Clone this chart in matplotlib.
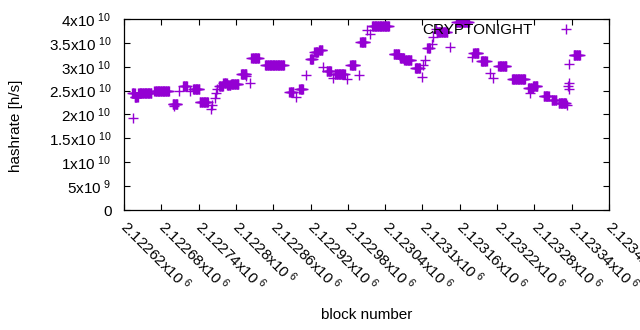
import numpy as np
import matplotlib
matplotlib.use('Agg')
import matplotlib.pyplot as plt
from matplotlib.ticker import FuncFormatter

plt.rcParams['font.family'] = ['Liberation Sans', 'DejaVu Sans']
plt.rcParams['mathtext.fontset'] = 'custom'
plt.rcParams['mathtext.rm'] = 'Liberation Sans'
plt.rcParams['mathtext.default'] = 'regular'

BASE_BLOCK = 2122620

# Runs of blocks where the estimated hashrate stays flat (block offsets, h/s in 1e10)
run_first = [13, 17, 23, 49, 78, 95, 111, 122, 153, 160, 166, 172, 188, 205, 227,
             266, 282, 299, 306, 314, 326, 339, 364, 380, 399, 434, 444, 451, 468,
             488, 503, 534, 562, 574, 602, 624, 650, 658, 675, 688, 699, 723]
run_last = [17, 22, 44, 72, 86, 101, 121, 135, 159, 165, 171, 184, 197, 217, 257,
            272, 288, 304, 312, 319, 333, 355, 372, 388, 426, 442, 450, 462, 476,
            492, 520, 555, 570, 583, 615, 645, 657, 665, 683, 695, 711, 733]
run_rate = [2.46, 2.37, 2.44, 2.50, 2.23, 2.60, 2.53, 2.26, 2.60, 2.65, 2.62, 2.63,
            2.85, 3.18, 3.03, 2.48, 2.54, 3.16, 3.30, 3.36, 2.92, 2.85, 3.04, 3.52,
            3.85, 3.26, 3.19, 3.14, 2.97, 3.39, 3.73, 3.94, 3.29, 3.12, 3.02, 2.74,
            2.55, 2.60, 2.39, 2.30, 2.24, 3.25]

# Scattered single blocks
single_block = [15, 81, 88, 106, 140, 141, 146, 148, 150, 196, 203, 277, 292, 320,
                336, 358, 378, 391, 396, 479, 481, 484, 495, 497, 502, 524, 560, 589,
                593, 653, 713, 714, 715, 716, 716]
single_rate = [1.92, 2.17, 2.50, 2.50, 2.11, 2.20, 2.34, 2.44, 2.53, 2.80, 2.67, 2.37,
               2.83, 3.00, 2.76, 2.74, 2.82, 3.78, 3.68, 2.79, 3.04, 3.14, 3.47, 3.63,
               3.80, 3.42, 3.21, 2.86, 2.76, 2.44, 2.20, 2.60, 2.65, 2.53, 3.06]

blocks = []
rates = []
for first, last, r in zip(run_first, run_last, run_rate):
    for b in range(first, last + 1):
        blocks.append(b)
        rates.append(r)
blocks += single_block
rates += single_rate
blocks = BASE_BLOCK + np.array(blocks)
rates = np.array(rates) * 1e10

x_ticks = [2122620, 2122680, 2122740, 2122800, 2122860, 2122920, 2122980,
           2123040, 2123100, 2123160, 2123220, 2123280, 2123340, 2123400]
y_ticks = [0, 5e9, 1e10, 1.5e10, 2e10, 2.5e10, 3e10, 3.5e10, 4e10]

FS = 11


def sci_label(v, pos=None):
    # gnuplot style "mantissa x10^exp"
    if v == 0:
        return '0'
    exp = int(np.floor(np.log10(abs(v))))
    mant = v / 10**exp
    return '%gx10$^{\\ %d}$' % (round(mant, 6), exp)


fig = plt.figure(figsize=(6.4, 3.3), dpi=100)
ax = fig.add_axes([124/640, 120/330, 485/640, 191/330])

ax.plot(blocks, rates, '+', color='#9400D3', markersize=6.5, markeredgewidth=1.0,
        label='CRYPTONIGHT')

ax.set_xlim(x_ticks[0], x_ticks[-1])
ax.set_ylim(0, 4e10)
ax.set_xticks(x_ticks)
ax.set_yticks(y_ticks)
ax.xaxis.set_major_formatter(FuncFormatter(sci_label))
ax.yaxis.set_major_formatter(FuncFormatter(sci_label))

ax.tick_params(direction='in', length=4, width=0.8, top=True, right=True,
               labelsize=FS, colors='black')
ax.tick_params(axis='y', pad=9)
ax.tick_params(axis='x', pad=10)
for lbl in ax.get_xticklabels():
    lbl.set_rotation(-45)
    lbl.set_ha('left')
    lbl.set_va('center')
    lbl.set_rotation_mode('anchor')
for s in ax.spines.values():
    s.set_linewidth(0.9)

ax.set_xlabel('block number', fontsize=FS, va='center')
ax.xaxis.set_label_coords(0.5, -0.55)
ax.set_ylabel('hashrate [h/s]', fontsize=FS, va='center')
ax.yaxis.set_label_coords(-0.223, 0.44)

ax.legend(loc='upper right', bbox_to_anchor=(0.9435, 0.978), frameon=False,
          markerfirst=False, handlelength=2, handletextpad=1.2, borderpad=0,
          borderaxespad=0, fontsize=FS)

fig.savefig('out.png', dpi=100)
